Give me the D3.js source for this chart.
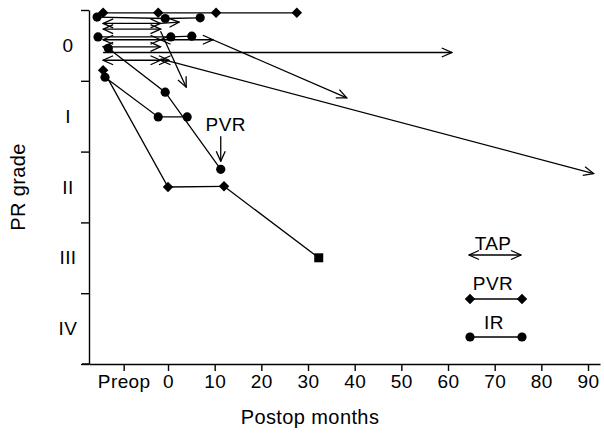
<!DOCTYPE html>
<html>
<head>
<meta charset="utf-8">
<script src="https://cdn.jsdelivr.net/npm/d3@7"></script>
<style>
  body { margin: 0; background: #fff; }
  svg text { font-family: "Liberation Sans", Arial, Helvetica, sans-serif; fill: #000; letter-spacing: 0.4px; }
</style>
</head>
<body>
<div id="chart"></div>
<script>
// grade bands: grade g occupies [g, g+1] on the y scale
const gradeLabels = ["0", "I", "II", "III", "IV"];
const monthTicks = [-9.5, 0, 10, 20, 30, 40, 50, 60, 70, 80, 90];
const monthTickLabels = ["Preop", "0", "10", "20", "30", "40", "50", "60", "70", "80", "90"];

// [month, grade position]
const pvrCourses = [
    [[-13.9, 0.04], [-2.1, 0.04], [10.3, 0.04], [27.6, 0.04]],
    [[-13.9, 0.85], [0, 2.5], [12, 2.49]]
];
const irCourses = [
    [[-15.2, 0.10], [-0.6, 0.12], [6.9, 0.11]],
    [[-15.0, 0.38], [0.6, 0.38], [5.1, 0.37]],
    [[-12.8, 0.54], [-0.6, 1.16], [11.3, 2.25]],
    [[-13.5, 0.95], [-2.1, 1.51], [4.1, 1.51]]
];
const failLinks = [[[12, 2.49], [32.3, 3.5]]];
const failPoints = [[32.3, 3.5]];

// TAP: [start month, end month, grade position]
const tapSpans = [
    [-13.9, -1.6, 0.19],
    [-13.9, -1.6, 0.27],
    [-13.9, -1.6, 0.42],
    [-1.6, 9.6, 0.42],
    [-13.9, -1.6, 0.52],
    [-13.9, -1.6, 0.71],
    [-1.6, 0.2, 0.71]
];
const followArrows = [
    [[-1.6, 0.19], [2.4, 0.17]],
    [[-1.6, 0.30], [3.9, 1.09]],
    [[9.6, 0.42], [38.3, 1.24]],
    [[-13.9, 0.60], [60.8, 0.60]],
    [[-1.6, 0.69], [91.2, 2.31]]
];
const pvrNote = [11.3, 2.25];

const width = 604;
const height = 435;

const svg = d3.select("#chart")
    .append("svg")
    .attr("width", width)
    .attr("height", height);

const x = d3.scaleLinear().domain([-16.93, 92.57]).range([89, 600]);
const y = d3.scaleLinear().domain([0, 5]).range([10, 364]);

const defs = svg.append("defs");
defs.append("marker")
    .attr("id", "head")
    .attr("viewBox", "-1 -6 12 12")
    .attr("refX", 10)
    .attr("refY", 0)
    .attr("markerUnits", "userSpaceOnUse")
    .attr("markerWidth", 12)
    .attr("markerHeight", 12)
    .attr("orient", "auto-start-reverse")
    .append("path")
    .attr("d", "M0,-4.5L10,0L0,4.5")
    .attr("fill", "none")
    .attr("stroke", "#000")
    .attr("stroke-width", 1.3);

// axes
svg.append("g")
    .attr("transform", "translate(89,0)")
    .call(d3.axisLeft(y).tickValues([0, 1, 2, 3, 4, 5]).tickFormat("").tickSize(8).tickSizeOuter(0))
    .call(g => g.selectAll("path, line").attr("stroke", "#000").attr("stroke-width", 1.4));

svg.append("g")
    .attr("transform", "translate(0,364)")
    .call(d3.axisBottom(x).tickValues(monthTicks).tickFormat((d, i) => monthTickLabels[i]).tickSize(7).tickSizeOuter(0))
    .call(g => g.selectAll("path, line").attr("stroke", "#000").attr("stroke-width", 1.4))
    .call(g => g.selectAll("text")
        .attr("dy", null)
        .attr("y", 24)
        .style("font-size", "19px")
        .style("font-family", "'Liberation Sans', Arial, sans-serif")
        .attr("fill", "#000"));

svg.append("line")
    .attr("x1", 82).attr("x2", 89)
    .attr("y1", 364).attr("y2", 364)
    .attr("stroke", "#000").attr("stroke-width", 1.4);

svg.append("g")
    .selectAll("text")
    .data(gradeLabels)
    .enter()
    .append("text")
    .attr("x", 68)
    .attr("y", (d, i) => y(i + 0.5))
    .attr("dy", "0.35em")
    .attr("text-anchor", "middle")
    .attr("fill", "#000")
    .style("font-size", "19px")
    .text(d => d);

svg.append("text")
    .attr("transform", `translate(25,${y(2.5)}) rotate(-90)`)
    .attr("text-anchor", "middle")
    .attr("fill", "#000")
    .style("font-size", "20px")
    .text("PR grade");

svg.append("text")
    .attr("x", 310)
    .attr("y", 424)
    .attr("text-anchor", "middle")
    .attr("fill", "#000")
    .style("font-size", "20px")
    .text("Postop months");

// lines
const line = d3.line().x(d => x(d[0])).y(d => y(d[1]));
const plot = svg.append("g").attr("fill", "none").attr("stroke", "#000").attr("stroke-width", 1.3);

plot.selectAll("path.tap")
    .data(tapSpans)
    .enter()
    .append("path")
    .attr("class", "tap")
    .attr("d", d => line([[d[0], d[2]], [d[1], d[2]]]))
    .attr("marker-start", "url(#head)")
    .attr("marker-end", "url(#head)");

plot.selectAll("path.follow")
    .data(followArrows)
    .enter()
    .append("path")
    .attr("class", "follow")
    .attr("d", line)
    .attr("marker-end", "url(#head)");

plot.selectAll("path.course")
    .data(pvrCourses.concat(irCourses, failLinks))
    .enter()
    .append("path")
    .attr("class", "course")
    .attr("d", line);

// point marks
const diamond = d3.symbol().type(d3.symbolDiamond2).size(70);
svg.append("g")
    .selectAll("path")
    .data(pvrCourses.flat())
    .enter()
    .append("path")
    .attr("d", diamond)
    .attr("transform", d => `translate(${x(d[0])},${y(d[1])})`)
    .attr("fill", "#000");

svg.append("g")
    .selectAll("circle")
    .data(irCourses.flat())
    .enter()
    .append("circle")
    .attr("cx", d => x(d[0]))
    .attr("cy", d => y(d[1]))
    .attr("r", 4.6)
    .attr("fill", "#000");

svg.append("g")
    .selectAll("rect")
    .data(failPoints)
    .enter()
    .append("rect")
    .attr("x", d => x(d[0]) - 4.5)
    .attr("y", d => y(d[1]) - 4.5)
    .attr("width", 9)
    .attr("height", 9)
    .attr("fill", "#000");

// PVR note
const nx = x(pvrNote[0]);
const ny = y(pvrNote[1]);
svg.append("text")
    .attr("x", nx + 5)
    .attr("y", ny - 38)
    .attr("text-anchor", "middle")
    .attr("fill", "#000")
    .style("font-size", "19px")
    .text("PVR");
svg.append("path")
    .attr("d", `M${nx},${ny - 33}L${nx},${ny - 8}`)
    .attr("stroke", "#000")
    .attr("stroke-width", 1.3)
    .attr("marker-end", "url(#head)");

// legend
const legend = svg.append("g").attr("transform", "translate(470,0)");
legend.append("text").attr("x", 23).attr("y", 250).attr("text-anchor", "middle").style("font-size", "19px").text("TAP");
legend.append("path")
    .attr("d", "M-1,255L51,255")
    .attr("stroke", "#000").attr("stroke-width", 1.3)
    .attr("marker-start", "url(#head)").attr("marker-end", "url(#head)");
legend.append("text").attr("x", 23).attr("y", 290).attr("text-anchor", "middle").style("font-size", "19px").text("PVR");
legend.append("path").attr("d", "M0,299L52,299").attr("stroke", "#000").attr("stroke-width", 1.3);
legend.selectAll("path.ld")
    .data([0, 52])
    .enter()
    .append("path")
    .attr("class", "ld")
    .attr("d", diamond)
    .attr("transform", d => `translate(${d},299)`);
legend.append("text").attr("x", 24).attr("y", 329).attr("text-anchor", "middle").style("font-size", "19px").text("IR");
legend.append("path").attr("d", "M0,337L52,337").attr("stroke", "#000").attr("stroke-width", 1.3);
legend.selectAll("circle")
    .data([0, 52])
    .enter()
    .append("circle")
    .attr("cx", d => d)
    .attr("cy", 337)
    .attr("r", 4.6);
</script>
</body>
</html>
